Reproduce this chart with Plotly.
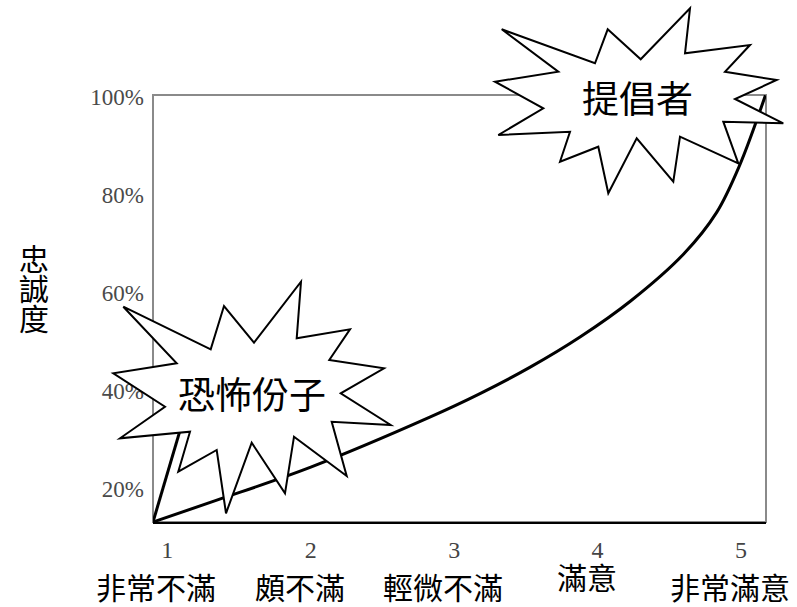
import plotly.graph_objects as go

# ---------------- data ----------------
satisfaction_ticks = [1, 2, 3, 4, 5]
satisfaction_tick_text = ["1", "2", "3", "4", "5"]
satisfaction_labels = ["非常不滿", "頗不滿", "輕微不滿", "滿意", "非常滿意"]
loyalty_ticks = [20, 40, 60, 80, 100]
loyalty_tick_text = ["20%", "40%", "60%", "80%", "100%"]

# competitive-market curve (visible)
curve_x = [0.90, 1.34, 2.00, 2.83, 3.18, 3.53, 3.88, 4.23, 4.60, 4.83, 4.99, 5.17]
curve_y = [13.2, 17.6, 24.4, 34.6, 39.4, 44.8, 51.0, 58.3, 67.9, 76.4, 86.0, 100.3]

# steep curve (mostly hidden behind the burst)
steep_x = [0.90, 1.02, 1.12]
steep_y = [13.2, 25.0, 35.0]

y_title = "忠誠度"
burst_texts = ["恐怖份子", "提倡者"]

# ---------------- style / layout ----------------
W, H = 797, 607
ML, MR, MT, MB = 153, 31, 95, 85
PW, PH = W - ML - MR, H - MT - MB
CJK = "Noto Sans CJK TC"
SERIF = "Liberation Serif"


def px_to_paper(px, py):
    return (px - ML) / PW, (H - MB - py) / PH


# starburst outlines (pixel positions of the decorative callouts)
burst1 = [(123.3, 306.7), (210.7, 349.3), (224, 306), (254, 342.7), (301, 281.7),
          (296.7, 338.3), (350, 329.3), (329.3, 360), (384, 368.3), (340.7, 393.3),
          (390.7, 425), (331.7, 421.7), (346.7, 476), (294, 436.7), (285, 493.3),
          (251.7, 442.7), (226, 513.3), (216.7, 450), (178.3, 471.7), (190, 431.7),
          (120, 438.3), (165, 406.7), (113.3, 373.3), (176.7, 363.3)]
burst2 = [(501.7, 29.3), (595, 63.3), (607.7, 29.3), (640.7, 59.3), (690, 8.3),
          (685, 53.3), (750, 45), (725, 71.7), (776.7, 80), (735, 99),
          (783.3, 123.3), (723.3, 121.7), (738.3, 163.3), (680, 136.7), (673.3, 181.7),
          (636.7, 138.3), (608.3, 193.3), (598.3, 146.7), (560, 161.7), (570, 131.7),
          (498.3, 135), (543.3, 108.3), (495, 81.7), (558.3, 71.7)]
burst_text_pos = [(252, 393), (637, 97)]


def path_of(pts):
    s = ""
    for i, (px, py) in enumerate(pts):
        x, y = px_to_paper(px, py)
        s += ("M" if i == 0 else "L") + f"{x:.5f},{y:.5f} "
    return s + "Z"


fig = go.Figure()
fig.add_trace(go.Scatter(x=steep_x, y=steep_y, mode="lines",
                         line=dict(color="black", width=3), hoverinfo="skip"))
fig.add_trace(go.Scatter(x=curve_x, y=curve_y, mode="lines",
                         line=dict(color="black", width=3, shape="spline", smoothing=1.0),
                         hoverinfo="skip"))

shapes = [
    dict(type="rect", xref="paper", yref="paper", x0=0, y0=0, x1=1, y1=1,
         line=dict(color="#8a8a8a", width=2), layer="below"),
]
for b in (burst1, burst2):
    shapes.append(dict(type="path", xref="paper", yref="paper", path=path_of(b),
                       fillcolor="white", line=dict(color="black", width=2), layer="above"))

annotations = []
for (px, py), t in zip(burst_text_pos, burst_texts):
    x, y = px_to_paper(px, py)
    annotations.append(dict(x=x, y=y, xref="paper", yref="paper", text=t, showarrow=False,
                            font=dict(family=CJK, size=37, color="black"),
                            xanchor="center", yanchor="middle"))

label_yshift = [-64, -64, -64, -54, -64]
for xv, t, ys in zip(satisfaction_ticks, satisfaction_labels, label_yshift):
    annotations.append(dict(x=xv, y=0, xref="x", yref="paper", text=t, showarrow=False,
                            font=dict(family=CJK, size=30, color="black"),
                            xanchor="center", yanchor="middle", xshift=-11, yshift=ys))

for i, ch in enumerate(y_title):
    x, y = px_to_paper(34, 257 + 30 * i)
    annotations.append(dict(x=x, y=y, xref="paper", yref="paper", text=ch, showarrow=False,
                            font=dict(family=CJK, size=30, color="black"),
                            xanchor="center", yanchor="middle"))

fig.update_layout(
    width=W, height=H,
    margin=dict(l=ML, r=MR, t=MT, b=MB, pad=0),
    paper_bgcolor="white", plot_bgcolor="white",
    showlegend=False,
    shapes=shapes, annotations=annotations,
    xaxis=dict(range=[0.90, 5.174], tickvals=satisfaction_ticks, ticktext=satisfaction_tick_text,
               showgrid=False, zeroline=False, showline=True, linecolor="black", linewidth=2,
               ticks="", ticklabelstandoff=5, automargin=False,
               tickfont=dict(family=SERIF, size=24, color="#444444")),
    yaxis=dict(range=[13.2, 100.35], tickvals=loyalty_ticks, ticktext=loyalty_tick_text,
               showgrid=False, zeroline=False, showline=False,
               ticks="", ticklabelstandoff=8, automargin=False,
               tickfont=dict(family=SERIF, size=23, color="#4a4a4a")),
)

fig.write_html("out.html")
